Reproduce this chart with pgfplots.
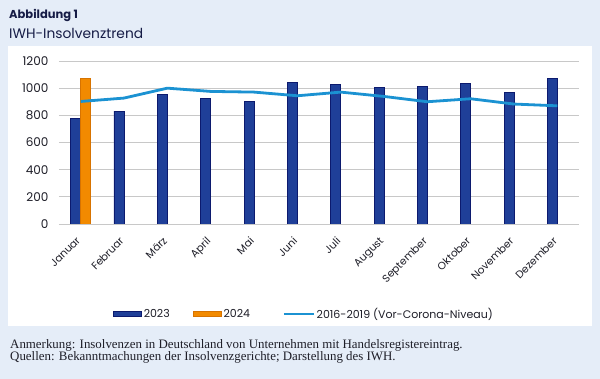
\documentclass[border=0pt]{standalone}
\usepackage{pgfplots}
\pgfplotsset{compat=1.18}
\usepackage{fontspec}
\setmainfont{Poppins}
\newfontfamily\notefont{Liberation Serif}
\definecolor{bg}{RGB}{229,237,248}
\definecolor{navy}{RGB}{22,28,70}
\definecolor{txt}{RGB}{30,30,40}
\definecolor{bar23}{RGB}{31,63,152}
\definecolor{bar23e}{RGB}{12,26,110}
\definecolor{bar24}{RGB}{242,138,0}
\definecolor{bar24e}{RGB}{215,115,0}
\definecolor{lineb}{RGB}{27,146,210}
\definecolor{gridc}{RGB}{200,200,200}
\pgfplotsset{
  barleg/.style={legend image code/.code={\draw[##1] (0pt,-2.5pt) rectangle (28pt,2.5pt);}},
  lineleg/.style={legend image code/.code={\path (0pt,0pt); \draw[##1, line width=2.5pt] (9pt,0pt) -- (39pt,0pt);}},
}
\begin{document}
\begin{tikzpicture}
\fill[bg] (0pt,0pt) rectangle (600pt,379pt);
\fill[white] (8pt,53pt) rectangle (592pt,333pt);
\node[anchor=base west, inner sep=0pt, text=navy, font=\fontsize{11.5}{13}\selectfont\bfseries] at (9pt,360pt) {Abbildung 1};
\node[anchor=base west, inner sep=0pt, text=navy, font=\fontsize{13.8}{15}\selectfont] at (9pt,340pt) {IWH-Insolvenztrend};
\node[anchor=base west, inner sep=0pt, text=txt, font=\notefont\fontsize{12.9}{14}\selectfont] at (10pt,30pt) {Anmerkung: Insolvenzen in Deutschland von Unternehmen mit Handelsregistereintrag.};
\node[anchor=base west, inner sep=0pt, text=txt, font=\notefont\fontsize{12.9}{14}\selectfont] at (10pt,18pt) {Quellen: Bekanntmachungen der Insolvenzgerichte; Darstellung des IWH.};
\begin{axis}[
  at={(59pt,155pt)}, anchor=south west,
  scale only axis, width=520pt, height=163pt,
  xmin=-0.5, xmax=11.5, ymin=0, ymax=1200,
  ytick={0,200,...,1200},
  xtick={0,...,11},
  xticklabels={Januar,Februar,März,April,Mai,Juni,Juli,August,September,Oktober,November,Dezember},
  axis line style={draw=none},
  major tick length=0pt,
  tick style={draw=none},
  ymajorgrids, grid style={gridc, line width=0.8pt},
  ticklabel style={text=txt, font=\fontsize{12}{14}\selectfont},
  /pgf/number format/assume math mode=true,
  /pgf/number format/1000 sep={},
  yticklabel style={anchor=east, xshift=-7pt},
  xticklabel style={xshift=-5pt, yshift=-12pt, rotate=45, anchor=north east, inner sep=0pt, font=\fontsize{10.5}{12}\selectfont},
  legend style={at={(0.471,-0.552)}, anchor=center, draw=none, fill=none,
    legend columns=-1, font=\fontsize{11}{13}\selectfont, text=txt,
    nodes={inner sep=1.5pt},
    /tikz/every even column/.append style={column sep=22pt}},
  legend cell align=left,
]
\addplot[ybar, bar width=10pt, bar shift=-5pt, fill=bar23, draw=bar23e, line width=0.8pt, barleg]
  coordinates {(0,775) (1,831) (2,956) (3,927) (4,905) (5,1045) (6,1025) (7,1003) (8,1013) (9,1032) (10,971) (11,1074)};
\addlegendentry{2023}
\addplot[ybar, bar width=10pt, bar shift=5pt, fill=bar24, draw=bar24e, line width=0.8pt, barleg]
  coordinates {(0,1075)};
\addlegendentry{2024}
\addplot[lineb, line width=2.8pt, mark=none, line join=round, lineleg]
  coordinates {(0,902) (1,927) (2,1000) (3,976) (4,971) (5,944) (6,971) (7,939) (8,900) (9,922) (10,883) (11,870)};
\addlegendentry{2016-2019 (Vor-Corona-Niveau)}
\end{axis}
\end{tikzpicture}
\end{document}
